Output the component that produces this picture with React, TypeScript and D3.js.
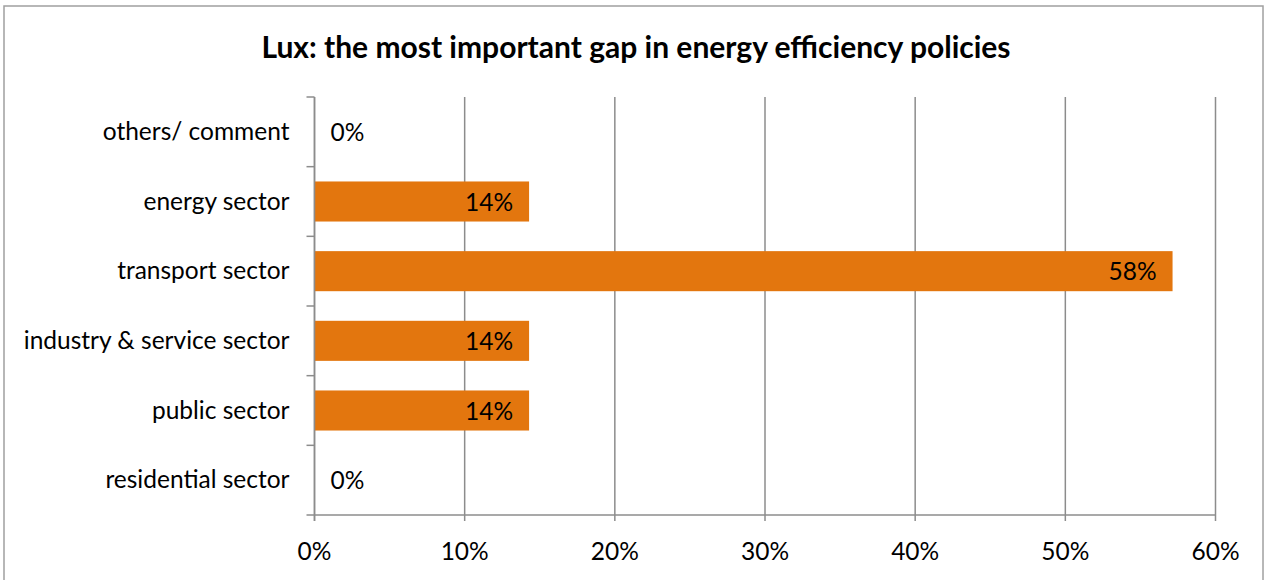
import React from "react";
import * as d3 from "d3";

const categories = [
  "others/ comment",
  "energy sector",
  "transport sector",
  "industry & service sector",
  "public sector",
  "residential sector",
];
const values = [0, 14.29, 57.14, 14.29, 14.29, 0];
const valueLabels = ["0%", "14%", "58%", "14%", "14%", "0%"];
const xTicks = [0, 10, 20, 30, 40, 50, 60];
const title = "Lux: the most important gap in energy efficiency policies";

const W = 1268;
const H = 580;
const left = 314.5;
const right = 1215.5;
const top = 97;
const bottom = 515;
const FONT = "Lato, 'Noto Sans', sans-serif";
const FS = 24.5;

export default function App() {
  const x = d3.scaleLinear().domain([0, 60]).range([left, right]);
  const y = d3.scaleBand().domain(categories).range([top, bottom]).paddingInner(0.425).paddingOuter(0.2125);
  const band = d3.scaleBand().domain(categories).range([top, bottom]);
  const grid = "#8c8c8c";
  return (
    <svg width={W} height={H} style={{ position: "absolute", left: 0, top: 0, background: "#fff" }}>
      <rect x={4} y={6} width={1259} height={590} fill="#fff" stroke="#a0a0a0" strokeWidth={1.5} />
      <text x={636} y={58} textAnchor="middle" fontFamily={FONT} fontWeight="bold" fontSize={30} fill="#000">
        {title}
      </text>
      {xTicks.map((t) => (
        <g key={t}>
          <line x1={x(t)} x2={x(t)} y1={top} y2={bottom + 6} stroke={grid} strokeWidth={1.5} />
          <text x={x(t)} y={560} textAnchor="middle" fontFamily={FONT} fontSize={FS} fill="#000">
            {t + "%"}
          </text>
        </g>
      ))}
      <line x1={left - 8} x2={right} y1={bottom} y2={bottom} stroke={grid} strokeWidth={1.5} />
      {categories.map((c) => (
        <line key={c} x1={left - 8} x2={left} y1={band(c)!} y2={band(c)!} stroke={grid} strokeWidth={1.5} />
      ))}
      {categories.map((c, i) => {
        const by = y(c)!;
        const bh = y.bandwidth();
        const cy = band(c)! + band.bandwidth() / 2;
        const w = x(values[i]) - x(0);
        return (
          <g key={c}>
            {values[i] > 0 && <rect x={x(0)} y={by} width={w} height={bh} fill="#E3760E" />}
            <text x={left - 25} y={cy + 8} textAnchor="end" fontFamily={FONT} fontSize={FS} fill="#000">
              {c}
            </text>
            {values[i] > 0 ? (
              <text x={x(values[i]) - 16} y={cy + 9} textAnchor="end" fontFamily={FONT} fontSize={FS} fill="#000">
                {valueLabels[i]}
              </text>
            ) : (
              <text x={x(0) + 16} y={cy + 9} textAnchor="start" fontFamily={FONT} fontSize={FS} fill="#000">
                {valueLabels[i]}
              </text>
            )}
          </g>
        );
      })}
      <line x1={left} x2={left} y1={top} y2={bottom + 6} stroke={grid} strokeWidth={1.5} />
    </svg>
  );
}
